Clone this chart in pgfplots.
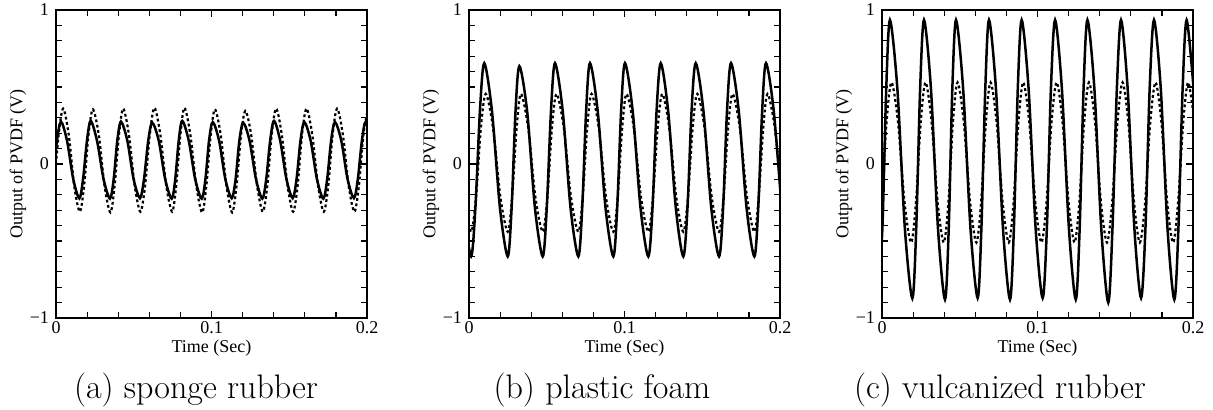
\documentclass[border=0pt]{standalone}
\usepackage{fontspec}
\usepackage{pgfplots}
\pgfplotsset{compat=1.18}
\newfontfamily\timesfont{Liberation Serif}
\newcommand{\tfont}{\timesfont\fontsize{9}{10}\selectfont}
\pgfplotsset{
 panel/.style={
  scale only axis, width=155.5pt, height=154pt,
  xmin=0, xmax=0.2, ymin=-1, ymax=1,
  xtick={0,0.1,0.2}, xticklabels={0,0.1,0.2},
  ytick={-1,0,1}, yticklabels={−1,0,1},
  minor x tick num=4, minor y tick num=9,
  tick align=inside, tick pos=both,
  major tick length=3.5pt, minor tick length=3pt,
  axis line style={line width=0.8pt},
  every tick/.style={black, line width=0.6pt},
  tick label style={font=\tfont},
  xticklabel style={yshift=1.8pt},
  xlabel={Time (Sec)}, ylabel={Output of PVDF (V)},
  every axis x label/.style={at={(axis description cs:0.5,-0.097)}, anchor=center, font=\tfont},
  every axis y label/.style={at={(axis description cs:-0.122,0.5)}, rotate=90, anchor=center, font=\tfont},
  anchor=south west,
 },
 solidline/.style={black, line width=1.25pt, smooth, no marks},
 dotline/.style={black, line width=1.1pt, dash pattern=on 1.4pt off 1.3pt, smooth, no marks},
}
\begin{document}
\begin{tikzpicture}
\path[use as bounding box] (0,0) rectangle (606.5pt,205pt);
% (a) sponge rubber
\begin{axis}[panel, at={(28pt,46pt)}]
\addplot[solidline] coordinates {
(-0.0020,-0.098) (0.0006,0.150) (0.0032,0.275)
(0.0071,0.150) (0.0111,-0.098) (0.0150,-0.223)
(0.0174,-0.098) (0.0199,0.150) (0.0223,0.280)
(0.0264,0.150) (0.0306,-0.098) (0.0347,-0.225)
(0.0371,-0.098) (0.0394,0.150) (0.0418,0.275)
(0.0459,0.150) (0.0499,-0.098) (0.0540,-0.222)
(0.0566,-0.098) (0.0593,0.150) (0.0619,0.268)
(0.0661,0.150) (0.0702,-0.098) (0.0744,-0.225)
(0.0767,-0.098) (0.0789,0.150) (0.0812,0.280)
(0.0854,0.150) (0.0895,-0.098) (0.0937,-0.225)
(0.0961,-0.098) (0.0984,0.150) (0.1008,0.272)
(0.1049,0.150) (0.1089,-0.098) (0.1130,-0.222)
(0.1155,-0.098) (0.1179,0.150) (0.1204,0.268)
(0.1245,0.150) (0.1286,-0.098) (0.1327,-0.225)
(0.1352,-0.098) (0.1377,0.150) (0.1402,0.280)
(0.1442,0.150) (0.1482,-0.098) (0.1522,-0.222)
(0.1547,-0.098) (0.1572,0.150) (0.1597,0.272)
(0.1638,0.150) (0.1678,-0.098) (0.1719,-0.225)
(0.1744,-0.098) (0.1769,0.150) (0.1794,0.272)
(0.1835,0.150) (0.1875,-0.098) (0.1916,-0.222)
(0.1941,-0.098) (0.1967,0.150) (0.1992,0.275)
(0.2033,0.150)
};
\addplot[dotline] coordinates {
(-0.0012,-0.14) (0.0017,0.19) (0.0046,0.36)
(0.0082,0.19) (0.0117,-0.14) (0.0153,-0.31)
(0.0181,-0.14) (0.0209,0.19) (0.0237,0.355)
(0.0275,0.19) (0.0312,-0.14) (0.0350,-0.315)
(0.0377,-0.14) (0.0405,0.19) (0.0432,0.36)
(0.0469,0.19) (0.0506,-0.14) (0.0543,-0.31)
(0.0573,-0.14) (0.0603,0.19) (0.0633,0.365)
(0.0671,0.19) (0.0709,-0.14) (0.0747,-0.31)
(0.0773,-0.14) (0.0800,0.19) (0.0826,0.365)
(0.0864,0.19) (0.0902,-0.14) (0.0940,-0.315)
(0.0967,-0.14) (0.0995,0.19) (0.1022,0.355)
(0.1059,0.19) (0.1096,-0.14) (0.1133,-0.315)
(0.1161,-0.14) (0.1190,0.19) (0.1218,0.345)
(0.1255,0.19) (0.1293,-0.14) (0.1330,-0.31)
(0.1359,-0.14) (0.1387,0.19) (0.1416,0.36)
(0.1452,0.19) (0.1489,-0.14) (0.1525,-0.31)
(0.1554,-0.14) (0.1582,0.19) (0.1611,0.36)
(0.1648,0.19) (0.1685,-0.14) (0.1722,-0.31)
(0.1751,-0.14) (0.1779,0.19) (0.1808,0.36)
(0.1845,0.19) (0.1882,-0.14) (0.1919,-0.31)
(0.1948,-0.14) (0.1977,0.19) (0.2006,0.355)
};
\end{axis}
% (b) plastic foam
\begin{axis}[panel, at={(234.5pt,46pt)}]
\addplot[solidline] coordinates {
(-0.0037,-0.286) (0.0013,-0.60)
(0.0041,-0.286) (0.0070,0.341) (0.0098,0.655)
(0.0148,0.341) (0.0199,-0.286) (0.0249,-0.60)
(0.0274,-0.286) (0.0299,0.341) (0.0324,0.635)
(0.0374,0.341) (0.0424,-0.286) (0.0474,-0.60)
(0.0500,-0.286) (0.0527,0.341) (0.0553,0.655)
(0.0603,0.341) (0.0653,-0.286) (0.0703,-0.60)
(0.0728,-0.286) (0.0753,0.341) (0.0778,0.655)
(0.0828,0.341) (0.0878,-0.286) (0.0928,-0.60)
(0.0953,-0.286) (0.0978,0.341) (0.1003,0.655)
(0.1053,0.341) (0.1103,-0.286) (0.1153,-0.60)
(0.1180,-0.286) (0.1206,0.341) (0.1233,0.655)
(0.1281,0.341) (0.1330,-0.286) (0.1378,-0.60)
(0.1405,-0.286) (0.1431,0.341) (0.1458,0.655)
(0.1508,0.341) (0.1558,-0.286) (0.1608,-0.60)
(0.1634,-0.286) (0.1659,0.341) (0.1685,0.655)
(0.1735,0.341) (0.1785,-0.286) (0.1835,-0.60)
(0.1860,-0.286) (0.1885,0.341) (0.1910,0.655)
(0.1960,0.341) (0.2010,-0.286)
};
\addplot[dotline] coordinates {
(-0.0034,-0.216) (0.0013,-0.44)
(0.0045,-0.216) (0.0076,0.231) (0.0108,0.455)
(0.0155,0.231) (0.0202,-0.216) (0.0249,-0.44)
(0.0277,-0.216) (0.0306,0.231) (0.0334,0.455)
(0.0381,0.231) (0.0427,-0.216) (0.0474,-0.44)
(0.0504,-0.216) (0.0533,0.231) (0.0563,0.455)
(0.0610,0.231) (0.0656,-0.216) (0.0703,-0.44)
(0.0731,-0.216) (0.0760,0.231) (0.0788,0.455)
(0.0835,0.231) (0.0881,-0.216) (0.0928,-0.44)
(0.0956,-0.216) (0.0985,0.231) (0.1013,0.455)
(0.1060,0.231) (0.1106,-0.216) (0.1153,-0.44)
(0.1183,-0.216) (0.1213,0.231) (0.1243,0.455)
(0.1288,0.231) (0.1333,-0.216) (0.1378,-0.44)
(0.1408,-0.216) (0.1438,0.231) (0.1468,0.455)
(0.1515,0.231) (0.1561,-0.216) (0.1608,-0.44)
(0.1637,-0.216) (0.1666,0.231) (0.1695,0.455)
(0.1742,0.231) (0.1788,-0.216) (0.1835,-0.44)
(0.1863,-0.216) (0.1892,0.231) (0.1920,0.455)
(0.1967,0.231) (0.2013,-0.216)
};
\end{axis}
% (c) vulcanized rubber
\begin{axis}[panel, at={(441pt,46pt)}]
\addplot[solidline] coordinates {
(-0.0024,-0.872) (0.0003,-0.40) (0.0027,0.484) (0.0051,0.935)
(0.0099,0.484) (0.0147,-0.420) (0.0195,-0.872)
(0.0220,-0.420) (0.0245,0.484) (0.0270,0.935)
(0.0315,0.484) (0.0360,-0.420) (0.0405,-0.880)
(0.0429,-0.420) (0.0452,0.484) (0.0476,0.935)
(0.0522,0.484) (0.0569,-0.420) (0.0615,-0.870)
(0.0639,-0.420) (0.0664,0.484) (0.0688,0.935)
(0.0733,0.484) (0.0778,-0.420) (0.0823,-0.880)
(0.0848,-0.420) (0.0873,0.484) (0.0898,0.935)
(0.0943,0.484) (0.0988,-0.420) (0.1033,-0.870)
(0.1060,-0.420) (0.1086,0.484) (0.1113,0.935)
(0.1157,0.484) (0.1202,-0.420) (0.1246,-0.880)
(0.1271,-0.420) (0.1296,0.484) (0.1321,0.935)
(0.1366,0.484) (0.1410,-0.420) (0.1455,-0.900)
(0.1482,-0.420) (0.1510,0.484) (0.1537,0.935)
(0.1580,0.484) (0.1623,-0.420) (0.1666,-0.870)
(0.1694,-0.420) (0.1721,0.484) (0.1749,0.935)
(0.1793,0.484) (0.1836,-0.420) (0.1880,-0.880)
(0.1906,-0.420) (0.1933,0.484) (0.1959,0.935)
(0.2004,0.484)
};
\addplot[dotline] coordinates {
(-0.0034,-0.51) (-0.0002,-0.25) (0.0029,0.27) (0.0061,0.53)
(0.0103,0.27) (0.0145,-0.25) (0.0187,-0.51)
(0.0218,-0.25) (0.0249,0.27) (0.0280,0.53)
(0.0319,0.27) (0.0358,-0.25) (0.0397,-0.51)
(0.0427,-0.25) (0.0456,0.27) (0.0486,0.53)
(0.0526,0.27) (0.0567,-0.25) (0.0607,-0.51)
(0.0637,-0.25) (0.0668,0.27) (0.0698,0.53)
(0.0737,0.27) (0.0776,-0.25) (0.0815,-0.51)
(0.0846,-0.25) (0.0877,0.27) (0.0908,0.53)
(0.0947,0.27) (0.0986,-0.25) (0.1025,-0.51)
(0.1058,-0.25) (0.1090,0.27) (0.1123,0.53)
(0.1161,0.27) (0.1200,-0.25) (0.1238,-0.51)
(0.1269,-0.25) (0.1300,0.27) (0.1331,0.53)
(0.1370,0.27) (0.1408,-0.25) (0.1447,-0.51)
(0.1480,-0.25) (0.1514,0.27) (0.1547,0.53)
(0.1584,0.27) (0.1621,-0.25) (0.1658,-0.51)
(0.1692,-0.25) (0.1725,0.27) (0.1759,0.53)
(0.1797,0.27) (0.1834,-0.25) (0.1872,-0.51)
(0.1904,-0.25) (0.1937,0.27) (0.1969,0.53)
(0.2009,0.27)
};
\end{axis}
\node[anchor=base, font=\fontsize{17}{20}\selectfont] at (98pt,5.5pt) {(a) sponge rubber};
\node[anchor=base, font=\fontsize{17}{20}\selectfont] at (301pt,5.5pt) {(b) plastic foam};
\node[anchor=base, font=\fontsize{17}{20}\selectfont] at (500pt,5.5pt) {(c) vulcanized rubber};
\end{tikzpicture}
\end{document}
